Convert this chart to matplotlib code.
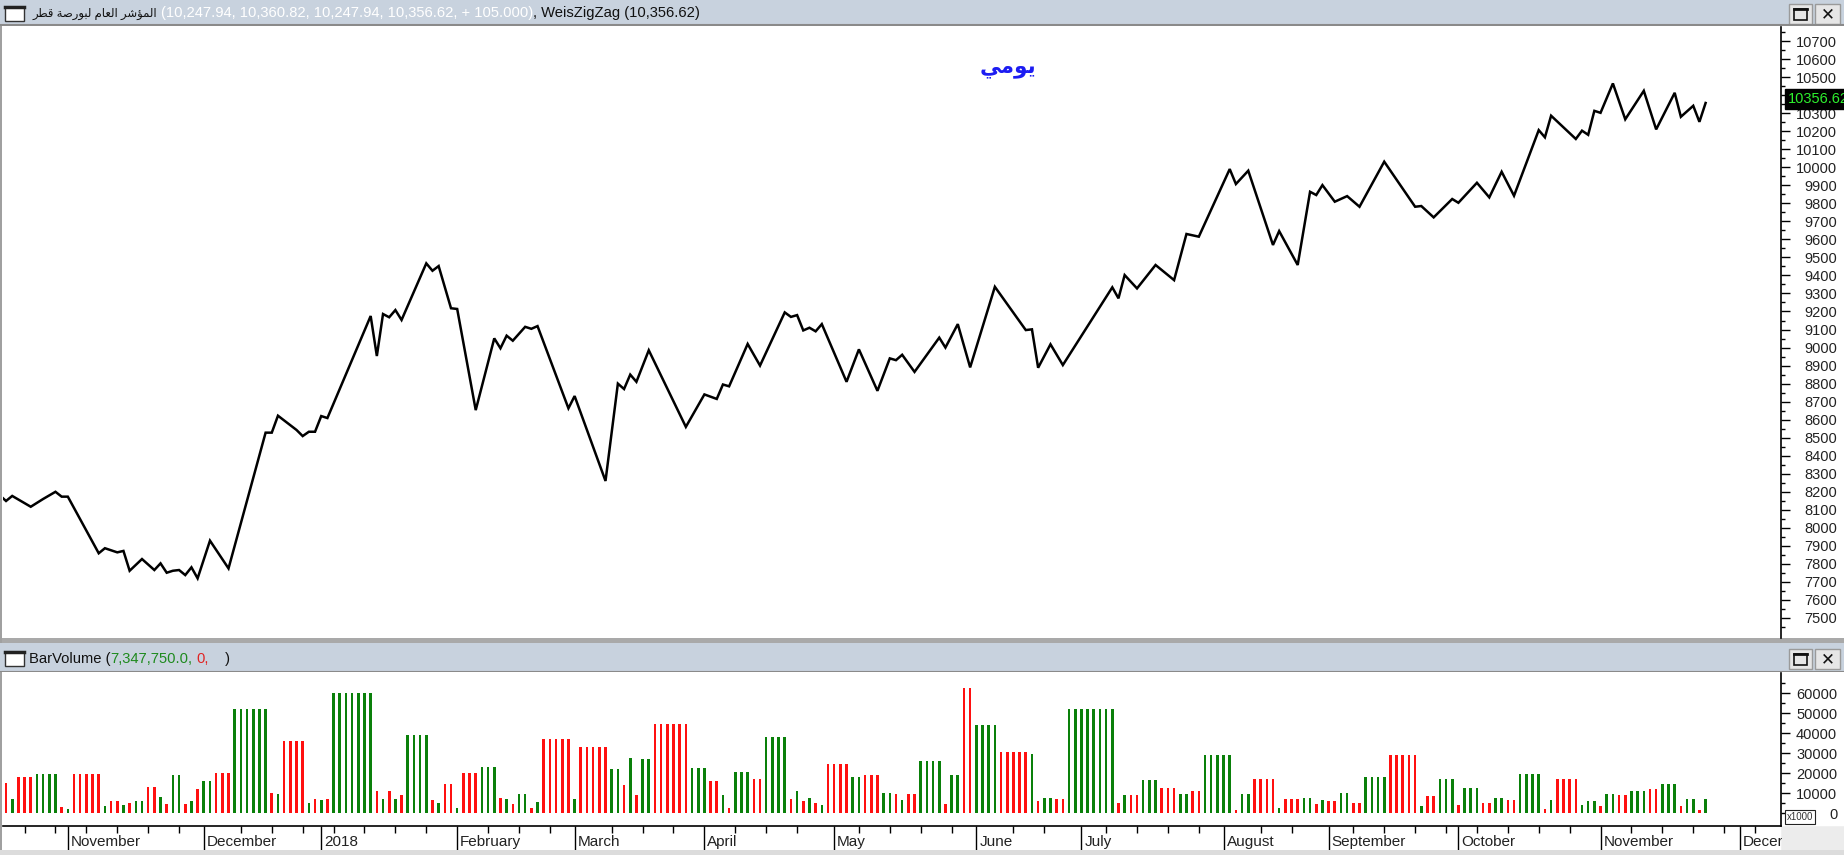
import numpy as np
import matplotlib
matplotlib.use('Agg')
import matplotlib.pyplot as plt
from matplotlib.patches import Rectangle
from matplotlib.ticker import FixedLocator

# ---- data -------------------------------------------------------------
# zigzag vertices: trading-bar index and close price
zz_bar = [-1, 0, 1, 4, 6, 8, 9, 10, 15, 16, 18, 19, 20, 22, 24, 25, 26, 27, 28, 29,
          30, 31, 33, 36, 42, 43, 44, 47, 48, 49, 50, 51, 52, 59, 60, 61, 62, 63, 64, 68,
          69, 70, 72, 73, 76, 79, 80, 81, 82, 84, 85, 86, 91, 92, 97, 99, 100, 101, 102, 104,
          110, 113, 115, 116, 117, 120, 122, 126, 127, 128, 129, 130, 131, 132, 136, 138, 141, 143, 144, 145,
          147, 151, 152, 154, 156, 160, 165, 166, 167, 169, 171, 179, 180, 181, 183, 186, 189, 191, 193, 198,
          199, 201, 205, 206, 209, 211, 212, 213, 215, 217, 219, 223, 228, 229, 231, 234, 235, 238, 240, 242,
          244, 248, 249, 250, 254, 255, 256, 257, 258, 260, 262, 265, 267, 270, 271, 273, 274, 275]
zz_price = [8180, 8149, 8177, 8117, 8160, 8200, 8173, 8173, 7859, 7887, 7864, 7872, 7762, 7827, 7766, 7803, 7751, 7762, 7766, 7738,
            7781, 7720, 7929, 7775, 8528, 8528, 8622, 8543, 8509, 8533, 8533, 8620, 8609, 9175, 8953, 9186, 9168, 9208, 9153, 9467,
            9426, 9452, 9218, 9214, 8653, 9051, 8996, 9066, 9038, 9115, 9104, 9119, 8663, 8731, 8260, 8800, 8770, 8850, 8810, 8985,
            8560, 8740, 8715, 8795, 8785, 9020, 8900, 9195, 9170, 9180, 9095, 9110, 9090, 9130, 8810, 8990, 8760, 8940, 8930, 8960,
            8865, 9055, 9000, 9130, 8890, 9337, 9097, 9101, 8888, 9018, 8903, 9334, 9273, 9402, 9328, 9458, 9374, 9630, 9615, 9990,
            9907, 9981, 9569, 9646, 9458, 9864, 9846, 9901, 9809, 9840, 9781, 10031, 9781, 9785, 9722, 9824, 9803, 9914, 9833, 9975,
            9842, 10206, 10166, 10286, 10157, 10203, 10180, 10313, 10302, 10465, 10266, 10424, 10210, 10413, 10280, 10341, 10252, 10356.62]

# wave volume, run-length: bars per wave, volume (thousands), up wave (1) / down wave (0)
run_len = [1, 1, 3, 4, 1, 1, 5, 1, 2, 1, 1, 2, 2, 1, 1, 2, 1, 1, 1, 2,
           3, 6, 1, 1, 4, 1, 1, 1, 1, 7, 1, 1, 1, 1, 1, 4, 1, 1, 2, 1,
           3, 3, 1, 1, 1, 2, 1, 1, 5, 1, 5, 2, 1, 1, 1, 2, 6, 3, 2, 1,
           1, 3, 2, 4, 1, 1, 1, 1, 1, 1, 4, 2, 3, 2, 1, 1, 2, 4, 1, 2,
           2, 4, 5, 1, 1, 2, 2, 8, 1, 1, 2, 3, 3, 2, 2, 5, 1, 2, 4, 1,
           3, 2, 1, 1, 2, 2, 2, 4, 5, 1, 2, 3, 1, 3, 2, 2, 2, 4, 1, 1,
           4, 1, 2, 1, 2, 2, 3, 2, 3, 1, 2, 1, 1]
run_vol = [15, 7, 18, 19.5, 3, 2, 19.5, 3.5, 6, 4, 5, 6, 13, 8, 4.5, 19, 4.5, 6, 12, 16,
           20, 52, 10, 9.5, 36, 5, 7, 6.5, 7, 60, 11, 7, 11, 7, 9, 39, 6.5, 5, 14.5, 2.5,
           20, 23, 7.5, 7, 4.5, 9.5, 2.5, 5.5, 37, 7, 33, 22, 14, 27.5, 9, 27, 44.5, 22.5, 16, 9,
           2.5, 20.5, 17, 38, 7, 11, 6, 7.5, 5, 4, 24.5, 18, 19, 10, 9.5, 6.5, 9.5, 26, 4.5, 19,
           62.5, 44, 30.5, 29.5, 6, 7.5, 7, 52, 5, 9, 9, 16.5, 12.5, 9.5, 11, 29, 1.5, 9.5, 17, 2.5,
           7, 7.5, 4.5, 6.5, 6, 10, 5, 18, 29, 3.5, 8.5, 17, 4, 12.5, 5, 7.5, 6.5, 19.5, 2, 6.5,
           17, 4, 6, 3.5, 9.5, 9, 11, 12, 14.5, 3.5, 7, 1.5, 7]
run_up = [0, 1, 0, 1, 0, 1, 0, 1, 0, 1, 0, 1, 0, 1, 0, 1, 0, 1, 0, 1,
          0, 1, 0, 1, 0, 1, 0, 1, 0, 1, 0, 1, 0, 1, 0, 1, 0, 1, 0, 1,
          0, 1, 0, 1, 0, 1, 0, 1, 0, 1, 0, 1, 0, 1, 0, 1, 0, 1, 0, 1,
          0, 1, 0, 1, 0, 1, 0, 1, 0, 1, 0, 1, 0, 1, 0, 1, 0, 1, 0, 1,
          0, 1, 0, 1, 0, 1, 0, 1, 0, 1, 0, 1, 0, 1, 0, 1, 0, 1, 0, 1,
          0, 1, 0, 1, 0, 1, 0, 1, 0, 1, 0, 1, 0, 1, 0, 1, 0, 1, 0, 1,
          0, 1, 1, 0, 1, 0, 1, 0, 1, 0, 1, 0, 1]

month_labels = ['November', 'December', '2018', 'February', 'March', 'April', 'May',
                'June', 'July', 'August', 'September', 'October', 'November', 'December']
month_bar = [10, 32, 51, 73, 92, 113, 134, 157, 174, 197, 214, 235, 258, 280.5]

title_name = 'المؤشر العام لبورصة قطر'
title_values = '(10,247.94, 10,360.82, 10,247.94, 10,356.62, + 105.000)'
title_indicator = ', WeisZigZag (10,356.62)'
period_label = 'يومي'

# ---- arabic shaping (matplotlib does no joining / bidi) -----------------
FORMS = {  # isolated, final, initial, medial
    'ا': ('\ufe8d', '\ufe8e', None, None),
    'ب': ('\ufe8f', '\ufe90', '\ufe91', '\ufe92'),
    'ة': ('\ufe93', '\ufe94', None, None),
    'ر': ('\ufead', '\ufeae', None, None),
    'ش': ('\ufeb5', '\ufeb6', '\ufeb7', '\ufeb8'),
    'ص': ('\ufeb9', '\ufeba', '\ufebb', '\ufebc'),
    'ط': ('\ufec1', '\ufec2', '\ufec3', '\ufec4'),
    'ع': ('\ufec9', '\ufeca', '\ufecb', '\ufecc'),
    'ق': ('\ufed5', '\ufed6', '\ufed7', '\ufed8'),
    'ل': ('\ufedd', '\ufede', '\ufedf', '\ufee0'),
    'م': ('\ufee1', '\ufee2', '\ufee3', '\ufee4'),
    'و': ('\ufeed', '\ufeee', None, None),
    'ؤ': ('\ufe85', '\ufe86', None, None),
    'ي': ('\ufef1', '\ufef2', '\ufef3', '\ufef4'),
}


def shape(s):
    out = []
    for i, ch in enumerate(s):
        if ch not in FORMS:
            out.append(ch)
            continue
        prev = s[i - 1] if i > 0 else ''
        nxt = s[i + 1] if i + 1 < len(s) else ''
        jp = prev in FORMS and FORMS[prev][2] is not None
        jn = FORMS[ch][2] is not None and nxt in FORMS
        iso, fin, ini, med = FORMS[ch]
        out.append(med if (jp and jn) else fin if jp else ini if jn else iso)
    return ''.join(reversed(out))


# ---- figure -------------------------------------------------------------
W, H = 1844, 855
plt.rcParams['font.family'] = ['Liberation Sans', 'DejaVu Sans']
fig = plt.figure(figsize=(W / 100, H / 100), dpi=100, facecolor='#f0f0f0')


def box(x0, y0, x1, y1, **kw):
    fig.add_artist(Rectangle((x0 / W, 1 - y1 / H), (x1 - x0) / W, (y1 - y0) / H,
                             transform=fig.transFigure, **kw))


# panel backgrounds and borders
box(0, 26, W, 638, fc='white', ec='none', zorder=-2)
box(0, 672, W, 826, fc='white', ec='none', zorder=-2)
box(0, 826, 1781, 850, fc='white', ec='none', zorder=-2)
box(0, 638, W, 643, fc='#a9a9a9', ec='none', zorder=-1)
box(0, 26, 2, 850, fc='#a0a0a0', ec='none', zorder=-1)

bar_bg = '#c8d2de'


def title_bar(y0, y1):
    a = fig.add_axes([0, 1 - y1 / H, 1, (y1 - y0) / H])
    a.set_xlim(0, W)
    a.set_ylim(y1 - y0, 0)
    a.set_facecolor(bar_bg)
    a.set_axis_off()
    a.add_patch(Rectangle((0, 0), W, y1 - y0, fc=bar_bg, ec='none'))
    a.plot([0, W], [y1 - y0 - 0.5] * 2, color='#8a8a8a', lw=1.5)
    h = y1 - y0
    cy = h / 2 + 1
    # window icon on the left
    a.add_patch(Rectangle((5, cy - 7), 19, 14, fc='white', ec='#333333', lw=1))
    a.plot([5, 24], [cy - 7, cy - 7], color='#222222', lw=2.5)
    # maximise / close buttons
    a.add_patch(Rectangle((1789, cy - 10), 23, 20, fc='#e6e6e6', ec='#9a9a9a', lw=1))
    a.add_patch(Rectangle((1794, cy - 5), 13, 11, fc='none', ec='#111111', lw=1.2))
    a.plot([1794, 1807], [cy - 5, cy - 5], color='#111111', lw=2)
    a.add_patch(Rectangle((1815, cy - 10), 25, 20, fc='#e6e6e6', ec='#9a9a9a', lw=1))
    a.text(1827.5, cy + 0.5, '✕', ha='center', va='center', fontsize=12,
           fontweight='bold', family='DejaVu Sans', color='#111111')
    return a, cy


def chain(a, x, y, pieces):
    t = None
    for s, c, gap, size in pieces:
        if t is None:
            t = a.text(x, y, s, color=c, fontsize=size, ha='left', va='center')
        else:
            t = a.annotate(s, xy=(1, 0), xycoords=t, xytext=(gap, 0),
                           textcoords='offset pixels', color=c, fontsize=size,
                           ha='left', va='bottom')
    return t


ax_t1, cy1 = title_bar(0, 26)
chain(ax_t1, 32, cy1, [(shape(title_name), '#111111', 0, 8.4),
                       (title_values, 'white', 4, 10.6),
                       (title_indicator, '#111111', 0, 10.6)])

ax_t2, cy2 = title_bar(643, 672)
chain(ax_t2, 29, cy2, [('BarVolume (', '#111111', 0, 10.6),
                       ('7,347,750.0,', '#1e8a1e', 0, 10.6),
                       ('0,', '#e02424', 4, 10.6),
                       (')', '#111111', 16, 10.6)])

# ---- price panel ----------------------------------------------------------
x_left = -0.49
x_right = 287.2
ax = fig.add_axes([3 / W, 1 - 638 / H, 1778 / W, (638 - 27) / H])
ax.set_facecolor('white')
ax.plot(zz_bar, zz_price, color='black', lw=1.8, solid_joinstyle='miter')
ax.set_xlim(x_left, x_right)
ax.set_ylim(7389, 10778)
ax.yaxis.tick_right()
ax.yaxis.set_major_locator(FixedLocator(np.arange(7500, 10701, 100)))
ax.yaxis.set_minor_locator(FixedLocator(np.arange(7450, 10751, 50)))
ax.tick_params(axis='x', bottom=False, labelbottom=False)
ax.tick_params(axis='y', which='major', direction='out', length=6.5, width=1,
               pad=34, labelsize=10.5, labelcolor='#222222')
ax.tick_params(axis='y', which='minor', direction='out', length=3, width=1)
plt.setp(ax.yaxis.get_majorticklabels(), ha='right')
for side in ['top', 'left', 'bottom']:
    ax.spines[side].set_visible(False)
ax.spines['right'].set_linewidth(1.2)

last_close = zz_price[-1]
ax.annotate('%.2f' % last_close, xy=(1, last_close), xycoords=('axes fraction', 'data'),
            xytext=(7, 4), textcoords='offset pixels', ha='left', va='center',
            color='#2ef02e', fontsize=10.5, annotation_clip=False, zorder=6,
            bbox=dict(boxstyle='square,pad=0.18', fc='black', ec='black'))

fig.text(1008 / W, 1 - 68 / H, shape(period_label), color='#1c1cf2', fontsize=15.5,
         fontweight='bold', family='DejaVu Sans', ha='center', va='center')

# ---- volume panel ---------------------------------------------------------
vol = np.repeat(run_vol, run_len) * 1000
up = np.repeat(run_up, run_len)
bars = np.arange(len(vol))
colors = np.where(up == 1, '#0a800a', '#ff1010')

av = fig.add_axes([3 / W, 1 - 826 / H, 1778 / W, (826 - 673) / H])
av.set_facecolor('white')
av.bar(bars, vol, width=0.42, color=colors, linewidth=0)
av.set_xlim(x_left, x_right)
av.set_ylim(-6500, 70000)
av.yaxis.tick_right()
av.yaxis.set_major_locator(FixedLocator(np.arange(0, 60001, 10000)))
av.yaxis.set_minor_locator(FixedLocator(np.arange(5000, 65001, 10000)))
av.tick_params(axis='y', which='major', direction='out', length=6.5, width=1,
               pad=34, labelsize=10.5, labelcolor='#222222')
av.tick_params(axis='y', which='minor', direction='out', length=3, width=1)
plt.setp(av.yaxis.get_majorticklabels(), ha='right')

minor_x = [b for b in np.arange(3, 286, 5) if min(abs(b - m) for m in month_bar) > 1.5]
av.xaxis.set_major_locator(FixedLocator(month_bar))
av.xaxis.set_minor_locator(FixedLocator(minor_x))
av.tick_params(axis='x', which='major', direction='out', length=17, width=1, labelbottom=False)
av.tick_params(axis='x', which='minor', direction='out', length=5, width=1)
for m, lab in zip(month_bar, month_labels):
    av.annotate(lab, xy=(m, 0), xycoords=('data', 'axes fraction'), xytext=(3, -16),
                textcoords='offset pixels', ha='left', va='center', fontsize=11,
                color='#222222', annotation_clip=False)
for side in ['top', 'left']:
    av.spines[side].set_visible(False)
av.spines['right'].set_linewidth(1.2)
av.spines['bottom'].set_linewidth(1.2)

av.annotate('x1000', xy=(1, 0), xycoords=('axes fraction', 'data'), xytext=(6, -4),
            textcoords='offset pixels', ha='left', va='center', fontsize=7,
            color='#333333', annotation_clip=False, zorder=6,
            bbox=dict(boxstyle='square,pad=0.2', fc='white', ec='#222222', lw=0.8))

# grey corner under the axis scale, hides the clipped month label
box(1782, 827, W, H, fc='#ececec', ec='none', zorder=10)
box(0, 850, W, H, fc='#dcdcdc', ec='none', zorder=10)

fig.savefig('out.png', dpi=100, facecolor=fig.get_facecolor())
